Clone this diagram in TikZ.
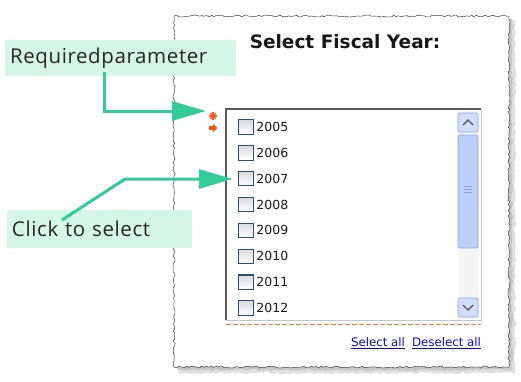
\documentclass[tikz,border=0pt]{standalone}
\usepackage{fontspec}
\setmainfont{DejaVu Sans}
\newfontfamily\handfont[LetterSpace=3]{Open Sans}
\usetikzlibrary{arrows.meta,decorations.pathmorphing}
\definecolor{mint}{RGB}{213,245,232}
\definecolor{arrowgreen}{RGB}{51,204,153}
\definecolor{cbborder}{RGB}{40,80,125}
\definecolor{cbfill}{RGB}{218,218,218}
\definecolor{linkblue}{RGB}{10,10,220}
\definecolor{reqorange}{RGB}{245,90,20}
\definecolor{dashorange}{RGB}{250,120,30}
\definecolor{thumbblue}{RGB}{190,208,250}
\definecolor{thumbedge}{RGB}{140,165,225}
\begin{document}
\begin{tikzpicture}[x=1pt,y=-1pt,
  ragged/.style={decorate,decoration={random steps,segment length=2.5pt,amplitude=1.1pt}},
  callout/.style={fill=mint, inner sep=0pt, font=\handfont\fontsize{20.5}{24}\selectfont, text=black!85},
  garrow/.style={draw=arrowgreen, line width=3pt, -{Triangle[length=34pt,width=19pt]}},
  cbox/.style={minimum size=14pt, inner sep=0pt},
  item/.style={font=\fontsize{12.5}{14}\selectfont, inner sep=1pt, anchor=west, text=black!90},
  link/.style={font=\fontsize{11.8}{14}\selectfont, text=linkblue, inner sep=1pt},
  sbtn/.style={draw=thumbedge, fill=thumbblue!70, rounded corners=2pt, line width=0.6pt}
]
\useasboundingbox (0,0) rectangle (521,381);
% paper shadow and torn paper
\fill[gray!25, ragged] (178,20) rectangle (515,373);
\fill[gray!45, ragged] (177,19) rectangle (512,370);
\filldraw[fill=white, draw=black!75, line width=0.5pt, ragged] (174,16) rectangle (509,367);

% list box
\fill[white] (226,109) rectangle (481,320);
\draw[gray!45, line width=1pt] (481,109) -- (481,320) -- (226,320);
\draw[black!65, line width=1.6pt] (226,320) -- (226,109) -- (481,109);
\draw[dashorange, line width=1.6pt, dash pattern=on 4.5pt off 2.5pt] (226,324.5) -- (481,324.5);

% scrollbar
\fill[gray!8] (458,111) rectangle (479,319);
\draw[sbtn] (458,113) rectangle (478,132);
\draw[black!65, line width=1.4pt] (463,125) -- (468,120) -- (473,125);
\draw[sbtn, fill=thumbblue] (458,135) rectangle (478,248);
\foreach \yy in {186,189,192} \draw[thumbedge, line width=0.6pt] (464,\yy) -- (472,\yy);
\draw[sbtn] (458,298) rectangle (478,317);
\draw[black!65, line width=1.4pt] (463,305) -- (468,310) -- (473,305);

% required markers (drawn)
\foreach \ang in {0,45,90,135}
  \draw[reqorange, line width=1.3pt] (213,116) ++(\ang:4) -- ++(\ang+180:8);
\fill[reqorange] (209,126) -- (213,126) -- (213,124) -- (217.5,128) -- (213,132) -- (213,130) -- (209,130) -- cycle;

% checkboxes (boxes first)
\foreach \yr [count=\i from 0] in {2005,2006,2007,2008,2009,2010,2011,2012} {
  \node[cbox] (cb\yr) at (246,127+25.86*\i) {};
  \shade[top color=cbfill, bottom color=white] (cb\yr.north west) rectangle (cb\yr.south east);
  \draw[cbborder, line width=1.1pt] (cb\yr.north west) rectangle (cb\yr.south east);
}

% title
\node[font=\bfseries\fontsize{18.5}{22}\selectfont, text=black!90] (title) at (345,42) {Select Fiscal Year:};

% year labels
\foreach \yr in {2005,2006,2007,2008,2009,2010,2011,2012}
  \node[item] (y\yr) at ([xshift=2pt]cb\yr.east) {\yr};

% links
\node[link] (selall) at (378,343) {\underline{Select all}};
\node[link] (deselall) at (446.5,343) {\underline{Deselect all}};

% callouts
\node[callout, minimum width=231pt, minimum height=36pt, text width=221pt, align=left] (reqbox) at (120.5,58) {Requiredparameter};
\node[callout, minimum width=185pt, minimum height=38pt, text width=175pt, align=left] (clickbox) at (99.5,229) {Click to select};

% arrows
\coordinate (a1) at (104,72);
\coordinate (a1t) at (206,111);
\draw[garrow] (a1) |- (a1t);
\coordinate (a2) at (62,220);
\coordinate (a2m) at (125,179);
\draw[garrow, shorten >=6pt] (a2) -- (a2m) -- (cb2007.west |- a2m);
\end{tikzpicture}
\end{document}
